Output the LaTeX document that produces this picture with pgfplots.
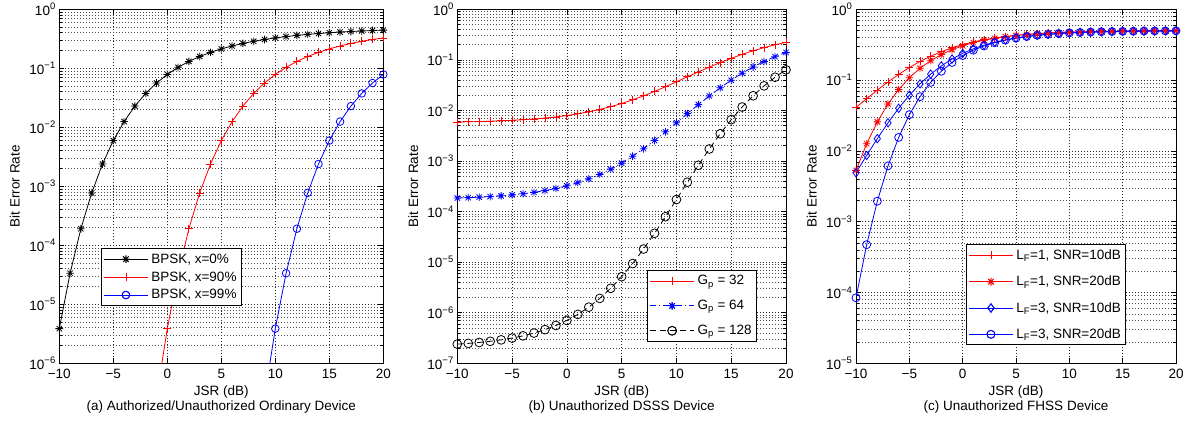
\documentclass[border=0pt]{standalone}
\usepackage{fontspec}
\setmainfont{Liberation Sans}
\usepackage{pgfplots}
\pgfplotsset{compat=1.18}

\pgfdeclareplotmark{mstar}{%
  \pgfpathmoveto{\pgfqpoint{-\pgfplotmarksize}{0pt}}\pgfpathlineto{\pgfqpoint{\pgfplotmarksize}{0pt}}%
  \pgfpathmoveto{\pgfqpoint{0pt}{-\pgfplotmarksize}}\pgfpathlineto{\pgfqpoint{0pt}{\pgfplotmarksize}}%
  \pgfpathmoveto{\pgfqpoint{-0.707\pgfplotmarksize}{-0.707\pgfplotmarksize}}\pgfpathlineto{\pgfqpoint{0.707\pgfplotmarksize}{0.707\pgfplotmarksize}}%
  \pgfpathmoveto{\pgfqpoint{-0.707\pgfplotmarksize}{0.707\pgfplotmarksize}}\pgfpathlineto{\pgfqpoint{0.707\pgfplotmarksize}{-0.707\pgfplotmarksize}}%
  \pgfusepathqstroke}

\pgfplotsset{
  scale only axis, height=354pt,
  xmin=-10, xmax=20,
  xtick={-10,-5,0,5,10,15,20},
  xticklabels={−10,−5,0,5,10,15,20},
  xticklabel style={yshift=-2pt},
  yticklabel={\pgfmathtruncatemacro{\ee}{round(\tick/ln(10))}10\textsuperscript{\ifnum\ee<0 −\the\numexpr-\ee\relax\else\ee\fi}},
  grid=both,
  major grid style={black!85, dash pattern=on 1pt off 2pt, line width=0.6pt},
  minor grid style={black!70, dash pattern=on 1pt off 2pt, line width=0.6pt},
  tick style={black, line width=0.6pt},
  major tick length=5pt, minor tick length=3pt,
  axis line style={line width=0.9pt},
  ylabel={Bit Error Rate},
  xlabel style={align=center, anchor=north, inner sep=0pt, at={(axis description cs:0.5,-0.064)}},
  every axis plot/.append style={line width=0.8pt},
  legend image code/.code={\draw[mark repeat=2,mark phase=2,#1] plot coordinates {(0pt,0pt) (22pt,0pt) (44pt,0pt)};\draw[mark repeat=2,mark phase=2,#1] plot coordinates {(0pt,0pt) (22pt,0pt) (44pt,0pt)};},
  legend cell align=left,
  legend style={draw=black, line width=0.9pt, fill=white, inner sep=2pt, nodes={inner sep=3pt}},
}

\begin{document}
\begin{tikzpicture}[font=\fontsize{13.5}{14.5}\selectfont]
\path[use as bounding box] (0,0) rectangle (1194pt,423pt);

% (a)
\begin{semilogyaxis}[at={(59.3pt,59.7pt)}, anchor=south west, width=324pt,
  ymin=1e-6, ymax=1,
  ylabel style={at={(axis description cs:-0.137,0.5)}, anchor=center},
  xlabel={JSR (dB)\\(a) Authorized/Unauthorized Ordinary Device},
  legend style={at={(0.129,0.325)}, anchor=north west, row sep=1pt}]
\addplot[black, mark=mstar, mark size=3.8pt] coordinates {
(-10,3.872e-6)(-9,3.36e-5)(-8,1.91e-4)(-7,7.73e-4)(-6,2.388e-3)(-5,5.954e-3)(-4,1.25e-2)(-3,2.288e-2)(-2,3.75e-2)(-1,5.63e-2)(0,7.865e-2)(1,0.1038)(2,0.1307)(3,0.1584)(4,0.1861)(5,0.2132)(6,0.2392)(7,0.2638)(8,0.2867)(9,0.3079)(10,0.3274)(11,0.3451)(12,0.3612)(13,0.3758)(14,0.3889)(15,0.4007)(16,0.4113)(17,0.4208)(18,0.4294)(19,0.4369)(20,0.4438)};
\addlegendentry{BPSK, x=0\%}
\addplot[red, forget plot] coordinates {(-1,2.62e-7)(0,3.872e-6)};
\addplot[red, mark=+, mark size=4pt] coordinates {
(0,3.872e-6)(1,3.36e-5)(2,1.91e-4)(3,7.73e-4)(4,2.388e-3)(5,5.954e-3)(6,1.25e-2)(7,2.288e-2)(8,3.75e-2)(9,5.63e-2)(10,7.865e-2)(11,0.1038)(12,0.1307)(13,0.1584)(14,0.1861)(15,0.2132)(16,0.2392)(17,0.2638)(18,0.2867)(19,0.3079)(20,0.3274)};
\addlegendentry{BPSK, x=90\%}
\addplot[blue, forget plot] coordinates {(9,2.62e-7)(10,3.872e-6)};
\addplot[blue, mark=o, mark size=3.8pt] coordinates {
(10,3.872e-6)(11,3.36e-5)(12,1.91e-4)(13,7.73e-4)(14,2.388e-3)(15,5.954e-3)(16,1.25e-2)(17,2.288e-2)(18,3.75e-2)(19,5.63e-2)(20,7.865e-2)};
\addlegendentry{BPSK, x=99\%}
\end{semilogyaxis}

% (b)
\begin{semilogyaxis}[at={(457.3pt,59.7pt)}, anchor=south west, width=328.7pt,
  ymin=1e-7, ymax=1,
  ylabel style={at={(axis description cs:-0.134,0.5)}, anchor=center},
  xlabel={JSR (dB)\\(b) Unauthorized DSSS Device},
  legend style={at={(0.578,0.2636)}, anchor=north west, row sep=8pt}]
\addplot[red, mark=+, mark size=4pt] coordinates {
(-10,5.914e-3)(-9,5.968e-3)(-8,6.037e-3)(-7,6.123e-3)(-6,6.235e-3)(-5,6.375e-3)(-4,6.553e-3)(-3,6.78e-3)(-2,7.07e-3)(-1,7.45e-3)(0,7.93e-3)(1,8.56e-3)(2,9.38e-3)(3,1.045e-2)(4,1.186e-2)(5,1.372e-2)(6,1.62e-2)(7,1.947e-2)(8,2.38e-2)(9,2.947e-2)(10,3.68e-2)(11,4.617e-2)(12,5.78e-2)(13,7.19e-2)(14,8.85e-2)(15,0.1075)(16,0.1285)(17,0.1511)(18,0.1747)(19,0.1988)(20,0.2228)};
\addlegendentry{G\textsubscript{p} = 32}
\addplot[blue, dash pattern=on 6pt off 3pt on 1pt off 3pt, mark=mstar, mark size=3.8pt, mark options={solid}] coordinates {
(-10,1.855e-4)(-9,1.887e-4)(-8,1.928e-4)(-7,1.98e-4)(-6,2.05e-4)(-5,2.14e-4)(-4,2.25e-4)(-3,2.40e-4)(-2,2.60e-4)(-1,2.87e-4)(0,3.23e-4)(1,3.73e-4)(2,4.44e-4)(3,5.44e-4)(4,6.91e-4)(5,9.09e-4)(6,1.24e-3)(7,1.75e-3)(8,2.54e-3)(9,3.78e-3)(10,5.71e-3)(11,8.65e-3)(12,1.303e-2)(13,1.936e-2)(14,2.81e-2)(15,3.97e-2)(16,5.45e-2)(17,7.23e-2)(18,9.29e-2)(19,0.1158)(20,0.1404)};
\addlegendentry{G\textsubscript{p} = 64}
\addplot[black, dash pattern=on 6pt off 4pt, mark=o, mark size=4.4pt, mark options={solid}] coordinates {
(-10,2.395e-7)(-9,2.476e-7)(-8,2.583e-7)(-7,2.723e-7)(-6,2.907e-7)(-5,3.156e-7)(-4,3.494e-7)(-3,3.963e-7)(-2,4.629e-7)(-1,5.59e-7)(0,7.05e-7)(1,9.28e-7)(2,1.29e-6)(3,1.92e-6)(4,3.04e-6)(5,5.16e-6)(6,9.38e-6)(7,1.817e-5)(8,3.72e-5)(9,7.93e-5)(10,1.73e-4)(11,3.81e-4)(12,8.25e-4)(13,1.73e-3)(14,3.467e-3)(15,6.569e-3)(16,1.169e-2)(17,1.953e-2)(18,3.064e-2)(19,4.533e-2)(20,6.36e-2)};
\addlegendentry{G\textsubscript{p} = 128}
\end{semilogyaxis}

% (c)
\begin{semilogyaxis}[at={(856pt,59.7pt)}, anchor=south west, width=320pt,
  ymin=1e-5, ymax=1,
  ylabel style={at={(axis description cs:-0.138,0.5)}, anchor=center},
  xlabel={JSR (dB)\\(c) Unauthorized FHSS Device},
  legend style={at={(0.344,0.336)}, anchor=north west, row sep=9pt}]
\addlegendimage{color=red, draw=red, mark=+, mark size=4pt, mark options={draw=red}, line width=0.8pt}
\addlegendentry{L\textsubscript{F}=1, SNR=10dB}
\addlegendimage{color=red, draw=red, mark=mstar, mark size=3.8pt, line width=0.8pt}
\addlegendentry{L\textsubscript{F}=1, SNR=20dB}
\addlegendimage{color=blue, draw=blue, mark=diamond, mark size=4.2pt, line width=0.8pt}
\addlegendentry{L\textsubscript{F}=3, SNR=10dB}
\addlegendimage{color=blue, draw=blue, mark=o, mark size=4pt, line width=0.8pt}
\addlegendentry{L\textsubscript{F}=3, SNR=20dB}
\addplot[red, mark=+, mark size=4pt, forget plot] coordinates {
(-10,0.041042)(-9,0.054661)(-8,0.072261)(-7,0.09419)(-6,0.120406)(-5,0.150408)(-4,0.183243)(-3,0.217657)(-2,0.252289)(-1,0.285868)(0,0.317368)(1,0.34608)(2,0.371613)(3,0.393852)(4,0.412888)(5,0.42895)(6,0.442345)(7,0.45341)(8,0.462478)(9,0.469864)(10,0.47585)(11,0.480681)(12,0.484568)(13,0.487687)(14,0.490184)(15,0.492181)(16,0.493775)(17,0.495047)(18,0.49606)(19,0.496867)(20,0.497508)};
\addplot[red, mark=mstar, mark size=3.8pt, forget plot] coordinates {
(-10,0.0053077)(-9,0.01262)(-8,0.025715)(-7,0.045983)(-6,0.073721)(-5,0.107979)(-4,0.146854)(-3,0.188007)(-2,0.229184)(-1,0.268532)(0,0.30477)(1,0.337165)(2,0.365442)(3,0.389656)(4,0.410076)(5,0.42709)(6,0.441125)(7,0.452616)(8,0.461964)(9,0.469534)(10,0.475638)(11,0.480546)(12,0.484482)(13,0.487632)(14,0.49015)(15,0.492159)(16,0.493761)(17,0.495038)(18,0.496054)(19,0.496863)(20,0.497506)};
\addplot[blue, mark=diamond, mark size=4.2pt, forget plot] coordinates {
(-10,0.004915)(-9,0.008637)(-8,0.01491)(-7,0.024944)(-6,0.040002)(-5,0.061063)(-4,0.088429)(-3,0.121501)(-2,0.158834)(-1,0.198438)(0,0.238234)(1,0.276413)(2,0.311652)(3,0.34317)(4,0.370652)(5,0.394141)(6,0.413901)(7,0.430317)(8,0.443822)(9,0.45485)(10,0.463808)(11,0.471036)(12,0.476858)(13,0.481535)(14,0.485278)(15,0.488272)(16,0.490664)(17,0.492572)(18,0.494092)(19,0.495301)(20,0.496262)};
\addplot[blue, mark=o, mark size=4pt, forget plot] coordinates {
(-10,8.4217e-5)(-9,4.7377e-4)(-8,1.9498e-3)(-7,6.1488e-3)(-6,1.55032e-2)(-5,3.24605e-2)(-4,5.8364e-2)(-3,9.275e-2)(-2,0.133499)(-1,0.177599)(0,0.222037)(1,0.264382)(2,0.303036)(3,0.337172)(4,0.366568)(5,0.39141)(6,0.412095)(7,0.429137)(8,0.443057)(9,0.454358)(10,0.463486)(11,0.470832)(12,0.476731)(13,0.481451)(14,0.485227)(15,0.488238)(16,0.490642)(17,0.492557)(18,0.494082)(19,0.495295)(20,0.496258)};
\end{semilogyaxis}
\end{tikzpicture}
\end{document}
